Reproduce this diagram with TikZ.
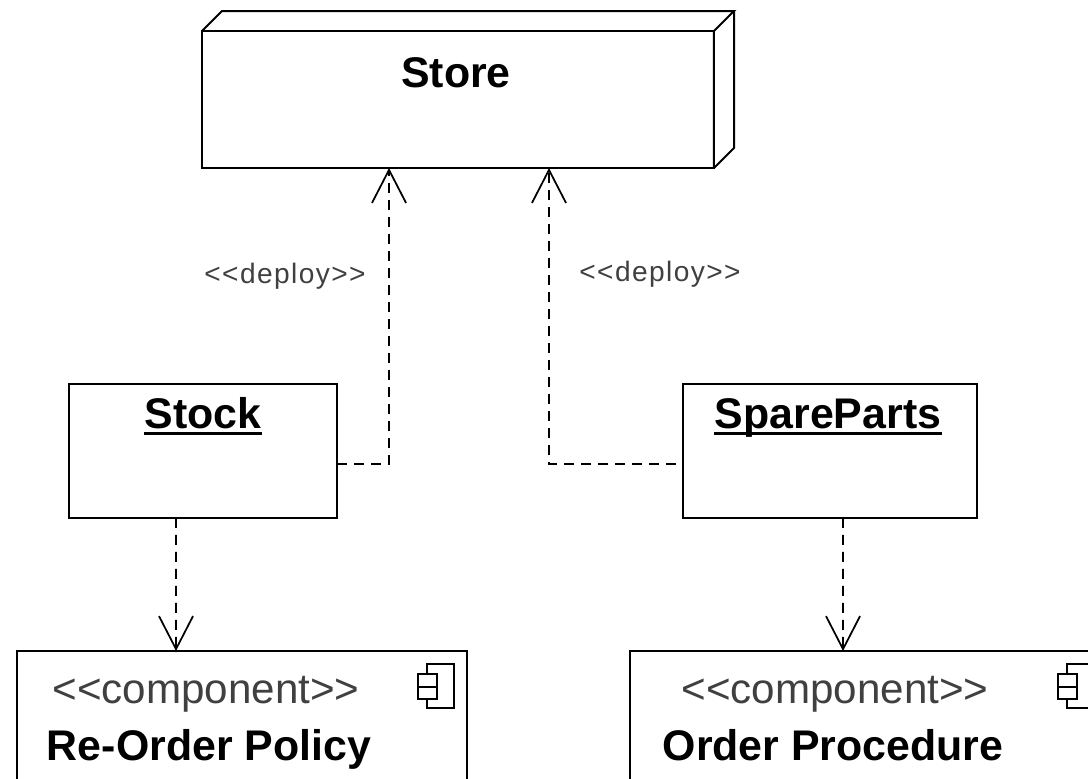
\documentclass[tikz,border=0pt]{standalone}
\usepackage{fontspec}
\setmainfont{Liberation Sans}
\usetikzlibrary{arrows.meta}
\tikzset{
  box/.style={draw=black, fill=white, line width=.04cm, minimum size=0pt, inner sep=0pt, outer sep=0pt},
  title/.style={inner sep=0pt, anchor=base, font=\fontsize{24.4}{24}\selectfont\bfseries},
  subtitle/.style={inner sep=0pt, anchor=base, text=black!75, font=\fontsize{24}{24}\selectfont},
  tag/.style={inner sep=0pt, anchor=base, text=black!75, font=\fontsize{16}{16}\selectfont\addfontfeature{LetterSpace=5}},
  dep/.style={draw=black, line width=.035cm, dash pattern=on .2cm off .14cm, -{Straight Barb[length=.66cm,width=.68cm]}},
  undertitle/.style={draw=black, line width=.05cm}
}
\begin{document}
\begin{tikzpicture}[x=.02cm, y=-.02cm]
\useasboundingbox (0,0) rectangle (1088,778);
\clip (0,0) rectangle (1088,778);

% Device at the top
\node[box, minimum width=10.24cm, minimum height=2.74cm] (store) at (458,99.5) {};
\draw[box, fill=none] (store.north west) -- ++(20,-20) -- ++(512,0) -- (store.north east)
  (734,11) -- ++(0,137) -- (store.south east) (store.north east) -- (store.south east);
\node[title] (storename) at (456,87) {Store};

% Artifacts
\node[box, minimum width=5.36cm, minimum height=2.68cm] (stock) at (203,451) {};
\node[title] (stockname) at (203,428) {\smash{Stock}};
\draw[undertitle] ([yshift=-.09cm]stockname.south west) -- ([yshift=-.09cm]stockname.south east);
\node[box, minimum width=5.88cm, minimum height=2.68cm] (spare) at (830,451) {};
\node[title] (sparename) at (828,428) {\smash{SpareParts}};
\draw[undertitle] ([yshift=-.09cm]sparename.south west) -- ([yshift=-.09cm]sparename.south east);

% Components, cut off by the page
\node[box, minimum width=9cm, minimum height=4cm] (policy) at (242,751) {};
\node[subtitle] (policytype) at (206,703) {<{}<component>{}>};
\node[title] (policyname) at (209,760) {Re-Order Policy};
\node[box, minimum width=12cm, minimum height=4cm] (procedure) at (930,751) {};
\node[subtitle] (proceduretype) at (835,703) {<{}<component>{}>};
\node[title] (procedurename) at (833,760) {Order Procedure};

% Component icons
\foreach \x in {418,1058} {
  \draw[black, line width=.03cm] (\x+9,664) rectangle (\x+36,708);
  \draw[black, line width=.03cm, fill=white] (\x,674) rectangle (\x+19,687);
  \draw[black, line width=.03cm, fill=white] (\x,687) rectangle (\x+19,699);
}

% Dependencies
\draw[dep] ([yshift=-.26cm]stock.east) -| ([xshift=-1.38cm]store.south);
\draw[dep, dash phase=.2cm] ([yshift=-.26cm]spare.west) -| ([xshift=1.82cm]store.south);
\draw[dep] ([xshift=-.54cm]stock.south) -- ([xshift=-1.32cm]policy.north);
\draw[dep] ([xshift=.26cm]spare.south) -- ([xshift=-1.74cm]procedure.north);
\node[tag] (deployleft) at (285,283) {<{}<deploy>{}>};
\node[tag] (deployright) at (660,281) {<{}<deploy>{}>};
\end{tikzpicture}
\end{document}
